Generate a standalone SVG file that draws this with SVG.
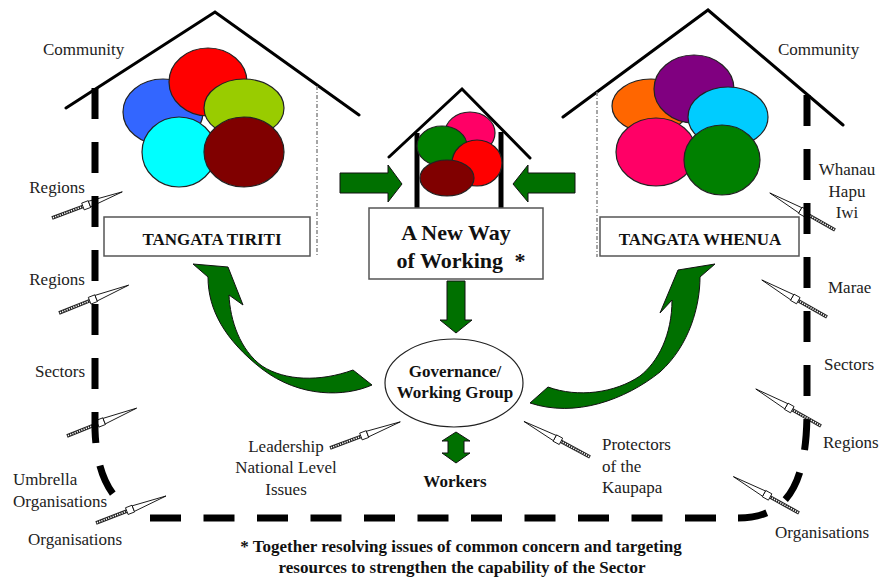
<svg xmlns="http://www.w3.org/2000/svg" xmlns:xlink="http://www.w3.org/1999/xlink" width="880" height="580" viewBox="0 0 880 580" font-family="'Liberation Serif', 'Times New Roman', serif">
<style>
.t{font-size:17px;fill:#222}
.b{font-weight:bold;fill:#111}
.roof{fill:none;stroke:#000;stroke-width:3;stroke-linecap:round;stroke-linejoin:miter}
.dot{fill:none;stroke:#888;stroke-width:1.5;stroke-dasharray:4 2 1 2}
.el{stroke:#222;stroke-width:1.2}
.box{fill:#fff;stroke:#555;stroke-width:1.5}
.g{fill:#007000;stroke:#111;stroke-width:1}
.dash{fill:none;stroke:#000;stroke-width:7}
</style>
<defs>
<g id="spear">
<line x1="0" y1="0" x2="34" y2="0" stroke="#222" stroke-width="3.6"/>
<line x1="1" y1="0" x2="34" y2="0" stroke="#fff" stroke-width="1.6" stroke-dasharray="1.2 1.2"/>
<rect x="33" y="-3.6" width="7" height="7.2" fill="#fff" stroke="#000" stroke-width="0.8"/>
<path d="M40,-3 L75,0 L40,3 Z" fill="#fff" stroke="#000" stroke-width="0.8"/>
</g>
</defs>
<rect width="880" height="580" fill="#fff"/>

<g id="house-left">
<polyline class="roof" points="66,108 215,12 359,115"/>
<line class="dot" x1="317" y1="86" x2="317" y2="257"/>
<ellipse class="el" cx="163" cy="112" rx="40" ry="33" fill="#3366ff"/>
<ellipse class="el" cx="208" cy="82" rx="39" ry="34" fill="#ff0000"/>
<ellipse class="el" cx="244" cy="108" rx="40" ry="29" fill="#99cc00"/>
<ellipse class="el" cx="179" cy="152" rx="37" ry="35" fill="#00ffff"/>
<ellipse class="el" cx="244" cy="152" rx="40" ry="35" fill="#800000"/>
<text class="t" x="43" y="55">Community</text>
</g>
<g id="box-tiriti">
<rect class="box" x="104" y="217" width="206" height="39"/>
<text class="t b" x="212" y="245" text-anchor="middle">TANGATA TIRITI</text>
</g>

<g id="house-right">
<polyline class="roof" points="563,117 708,10 843,125"/>
<line class="dot" x1="597" y1="92" x2="597" y2="257"/>
<ellipse class="el" cx="651" cy="106" rx="39" ry="27" fill="#ff6600"/>
<ellipse class="el" cx="694" cy="89" rx="40" ry="34" fill="#800080"/>
<ellipse class="el" cx="728" cy="117" rx="40" ry="30" fill="#00ccff"/>
<ellipse class="el" cx="656" cy="152" rx="40" ry="34" fill="#ff0066"/>
<ellipse class="el" cx="722" cy="160" rx="38" ry="35" fill="#008000"/>
<text class="t" x="778" y="55">Community</text>
</g>
<g id="box-whenua">
<rect class="box" x="600" y="217" width="199" height="39"/>
<text class="t b" x="700" y="245" text-anchor="middle">TANGATA WHENUA</text>
</g>

<g id="house-center">
<polyline class="roof" points="389,157 462,89 530,158"/>
<line x1="417" y1="133" x2="417" y2="209" stroke="#000" stroke-width="5"/>
<line x1="501" y1="132" x2="501" y2="209" stroke="#000" stroke-width="5"/>
<ellipse class="el" cx="470" cy="133" rx="25" ry="21" fill="#ff0066"/>
<ellipse class="el" cx="442" cy="146" rx="25" ry="20" fill="#008000"/>
<ellipse class="el" cx="477" cy="163" rx="25" ry="23" fill="#ff0000"/>
<ellipse class="el" cx="447" cy="178" rx="27" ry="18" fill="#800000"/>
</g>
<g id="box-newway">
<rect class="box" x="369" y="208" width="174" height="71"/>
<text class="t b" x="456" y="240" text-anchor="middle" style="font-size:22px">A New Way</text>
<text class="t b" x="461" y="268" text-anchor="middle" style="font-size:22px">of Working <tspan dx="6">*</tspan></text>
</g>

<g id="governance">
<ellipse cx="454" cy="383" rx="69" ry="44" fill="#fff" stroke="#222" stroke-width="1.2"/>
<text class="t b" x="455" y="377" text-anchor="middle">Governance/</text>
<text class="t b" x="455" y="398" text-anchor="middle">Working Group</text>
</g>

<g id="connectors">
<path class="g" d="M340,173 H388 V165 L402,184 L388,202 V193 H340 Z"/>
<path class="g" d="M575,173 H528 V165 L513,184 L528,202 V193 H575 Z"/>
<path class="g" d="M447,281 H465 V320 H472 L456,333 L440,320 H447 Z"/>
<path class="g" d="M456,432 L470,441 H464 V453 H470 L456,463 L442,453 H448 V441 H442 Z"/>
<path class="g" d="M193,264 L228,267 L243,305 L229,295 C230,320 240,350 262,366 C285,381 320,382 353,370 L372,385 C345,397 300,398 262,369 C225,340 208,310 208,277 Z"/>
<path class="g" d="M715,264 L678,270 L660,313 L672,300 C672,335 658,362 640,376 C615,393 578,398 548,387 L530,403 C575,418 625,400 660,372 C690,345 700,305 700,277 Z"/>
<use xlink:href="#spear" transform="translate(52,218) rotate(-20.4)"/>
<use xlink:href="#spear" transform="translate(59,313) rotate(-21.8)"/>
<use xlink:href="#spear" transform="translate(67,436) rotate(-21.8)"/>
<use xlink:href="#spear" transform="translate(96,523) rotate(-21.1)"/>
<use xlink:href="#spear" transform="translate(835,230) rotate(-150.4)"/>
<use xlink:href="#spear" transform="translate(827,317) rotate(-150.4)"/>
<use xlink:href="#spear" transform="translate(821,426) rotate(-150.4)"/>
<use xlink:href="#spear" transform="translate(799,513) rotate(-151)"/>
<use xlink:href="#spear" transform="translate(330,448) rotate(-20.4)"/>
<use xlink:href="#spear" transform="translate(590,457) rotate(-151.7)"/>
<path class="dash" d="M95,88 V430 Q97,488 128,508" stroke-dasharray="31 23"/>
<path class="dash" d="M150,518 H738" stroke-dasharray="31 22.5"/>
<path class="dash" d="M807,95 V410 C807,480 790,518 738,518" stroke-dasharray="31 23"/>
</g>

<g id="labels">
<text class="t" x="85" y="193" text-anchor="end">Regions</text>
<text class="t" x="85" y="285" text-anchor="end">Regions</text>
<text class="t" x="85" y="377" text-anchor="end">Sectors</text>
<text class="t" x="13" y="485">Umbrella</text>
<text class="t" x="13" y="507">Organisations</text>
<text class="t" x="28" y="545">Organisations</text>
<text class="t" x="847" y="175" text-anchor="middle">Whanau</text>
<text class="t" x="847" y="197" text-anchor="middle">Hapu</text>
<text class="t" x="847" y="218" text-anchor="middle">Iwi</text>
<text class="t" x="828" y="293">Marae</text>
<text class="t" x="824" y="370">Sectors</text>
<text class="t" x="823" y="448">Regions</text>
<text class="t" x="775" y="538">Organisations</text>
<text class="t" x="286" y="452" text-anchor="middle">Leadership</text>
<text class="t" x="286" y="473" text-anchor="middle">National Level</text>
<text class="t" x="286" y="495" text-anchor="middle">Issues</text>
<text class="t" x="602" y="450">Protectors</text>
<text class="t" x="602" y="472">of the</text>
<text class="t" x="602" y="493">Kaupapa</text>
<text class="t b" x="455" y="487" text-anchor="middle">Workers</text>
<text class="t b" x="461" y="552" text-anchor="middle">* Together resolving issues of common concern and targeting</text>
<text class="t b" x="462" y="573" text-anchor="middle">resources to strengthen the capability of the Sector</text>
</g>
</svg>
